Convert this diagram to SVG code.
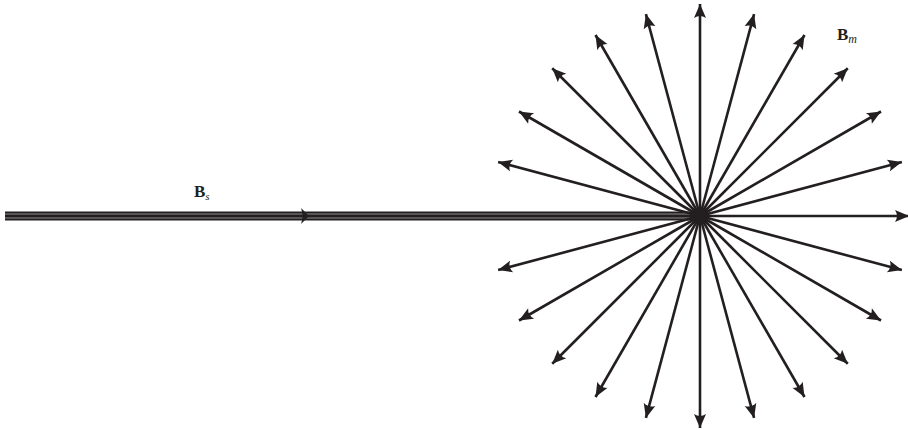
<svg xmlns="http://www.w3.org/2000/svg" width="908" height="430" viewBox="0 0 908 430">
<style>
.ray{stroke:#231f20;stroke-width:2.6;fill:none;marker-end:url(#ah)}
.lbl{font-family:"Liberation Serif","DejaVu Serif",serif;fill:#231f20}
</style>
<defs>
<marker id="ah" markerUnits="userSpaceOnUse" viewBox="-15 -7 17 14" refX="0" refY="0" markerWidth="17" markerHeight="14" orient="auto">
<path d="M0,0 L-14,-6 Q-10,0 -14,6 Z" fill="#231f20"/>
</marker>
</defs>
<rect width="908" height="430" fill="#fff"/>
<g id="Bs">
<line x1="5" y1="216" x2="700" y2="216" stroke="#231f20" stroke-width="9"/>
<line x1="5" y1="214" x2="690" y2="214" stroke="#8c8c8c" stroke-width="1.2"/>
<line x1="5" y1="218" x2="690" y2="218" stroke="#8c8c8c" stroke-width="1.2"/>
<path d="M309,216 L301,208 Q304,216 301,224 Z" fill="#231f20"/>
<text class="lbl" x="194" y="197" font-size="17" font-weight="bold">B<tspan font-size="11" font-style="italic" font-weight="normal" dy="3">s</tspan></text>
</g>
<g id="Bm">
<g id="rays" transform="translate(700,216)">
<line class="ray" x1="0" y1="0" x2="209" y2="0" transform="rotate(0)"/>
<line class="ray" x1="0" y1="0" x2="209" y2="0" transform="rotate(-15)"/>
<line class="ray" x1="0" y1="0" x2="209" y2="0" transform="rotate(-30)"/>
<line class="ray" x1="0" y1="0" x2="209" y2="0" transform="rotate(-45)"/>
<line class="ray" x1="0" y1="0" x2="209" y2="0" transform="rotate(-60)"/>
<line class="ray" x1="0" y1="0" x2="209" y2="0" transform="rotate(-75)"/>
<line class="ray" x1="0" y1="0" x2="212" y2="0" transform="rotate(-90)"/>
<line class="ray" x1="0" y1="0" x2="209" y2="0" transform="rotate(-105)"/>
<line class="ray" x1="0" y1="0" x2="209" y2="0" transform="rotate(-120)"/>
<line class="ray" x1="0" y1="0" x2="209" y2="0" transform="rotate(-135)"/>
<line class="ray" x1="0" y1="0" x2="209" y2="0" transform="rotate(-150)"/>
<line class="ray" x1="0" y1="0" x2="209" y2="0" transform="rotate(-165)"/>
<line class="ray" x1="0" y1="0" x2="209" y2="0" transform="rotate(165)"/>
<line class="ray" x1="0" y1="0" x2="209" y2="0" transform="rotate(150)"/>
<line class="ray" x1="0" y1="0" x2="209" y2="0" transform="rotate(135)"/>
<line class="ray" x1="0" y1="0" x2="209" y2="0" transform="rotate(120)"/>
<line class="ray" x1="0" y1="0" x2="209" y2="0" transform="rotate(105)"/>
<line class="ray" x1="0" y1="0" x2="212" y2="0" transform="rotate(90)"/>
<line class="ray" x1="0" y1="0" x2="209" y2="0" transform="rotate(75)"/>
<line class="ray" x1="0" y1="0" x2="209" y2="0" transform="rotate(60)"/>
<line class="ray" x1="0" y1="0" x2="209" y2="0" transform="rotate(45)"/>
<line class="ray" x1="0" y1="0" x2="209" y2="0" transform="rotate(30)"/>
<line class="ray" x1="0" y1="0" x2="209" y2="0" transform="rotate(15)"/>
<circle cx="0" cy="0" r="6" fill="#231f20"/>
</g>
<text class="lbl" x="837" y="40" font-size="17" font-weight="bold">B<tspan font-size="12" font-style="italic" font-weight="normal" dy="3">m</tspan></text>
</g>
</svg>
